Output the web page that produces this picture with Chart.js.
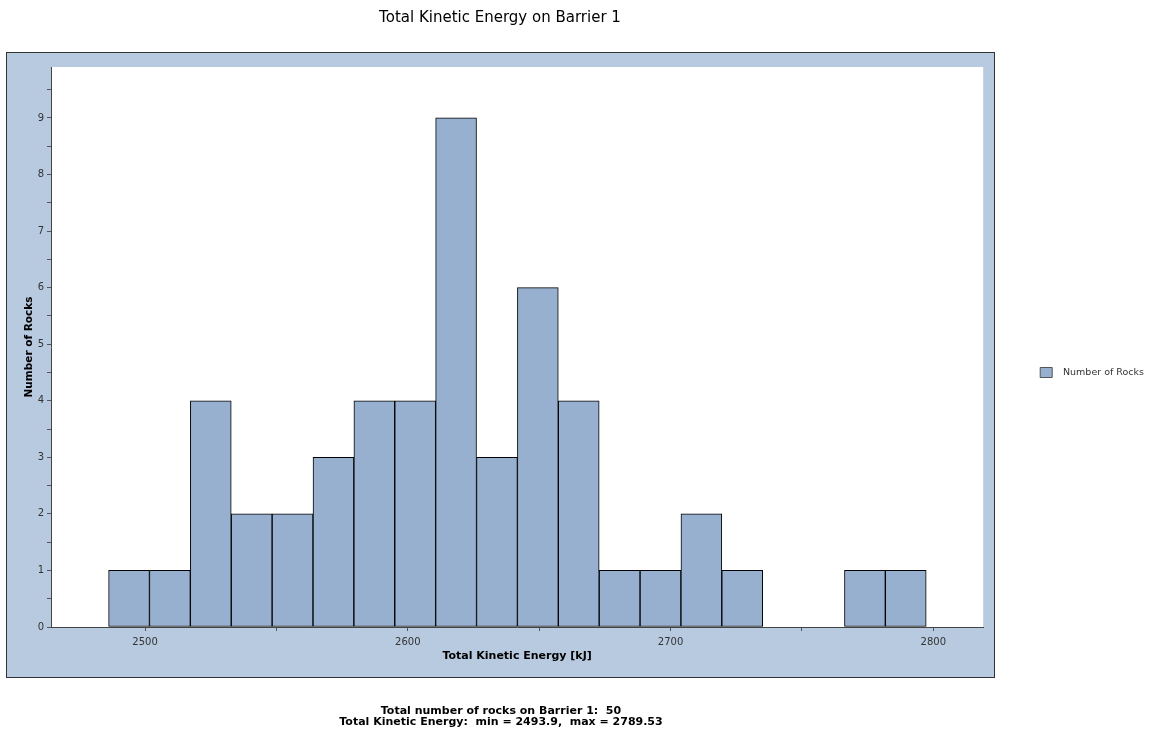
<!DOCTYPE html>
<html>
<head>
<meta charset="utf-8">
<script src="https://cdn.jsdelivr.net/npm/chart.js@4.4.1/dist/chart.umd.min.js"></script>
<style>
  body { margin: 0; background: #fff; }
  canvas { display: block; }
</style>
</head>
<body>
<canvas id="chart" width="1166" height="733"></canvas>
<script>
// histogram bins (centre of each bin, kJ) and counts
var binCenters = [2493.9, 2509.46, 2525.02, 2540.58, 2556.14, 2571.7, 2587.26, 2602.82, 2618.38, 2633.94,
                  2649.5, 2665.06, 2680.62, 2696.18, 2711.74, 2727.3, 2742.86, 2758.42, 2773.98, 2789.53];
var rockCounts = [1, 1, 4, 2, 2, 3, 4, 4, 9, 3, 6, 4, 1, 1, 2, 1, 0, 0, 1, 1];
var xTickLabels = [2500, 2600, 2700, 2800];
var chartTitle = "Total Kinetic Energy on Barrier 1";
var footerLines = ["Total number of rocks on Barrier 1:  50",
                   "Total Kinetic Energy:  min = 2493.9,  max = 2789.53"];

var panelColor = "#b8cadf";
var barColor = "#98b0cf";
var FONT = '"DejaVu Sans", Verdana, sans-serif';

// panel behind the plot + title and footer text
var framePlugin = {
  id: "frame",
  beforeDraw: function(chart){
    var ctx = chart.ctx, a = chart.chartArea;
    ctx.save();
    ctx.fillStyle = "#fff";
    ctx.fillRect(0, 0, chart.width, chart.height);
    ctx.fillStyle = panelColor;
    ctx.fillRect(7, 53, 988, 625);
    ctx.strokeStyle = "#333";
    ctx.lineWidth = 1;
    ctx.strokeRect(6.5, 52.5, 988, 625);
    ctx.fillStyle = "#fff";
    ctx.fillRect(a.left, a.top, a.right - a.left, a.bottom - a.top);
    ctx.restore();
  },
  afterDraw: function(chart){
    var ctx = chart.ctx;
    ctx.save();
    ctx.fillStyle = "#000";
    ctx.textAlign = "center";
    ctx.textBaseline = "middle";
    ctx.font = "15px " + FONT;
    ctx.fillText(chartTitle, 500, 18);
    ctx.font = "bold 11px " + FONT;
    ctx.fillText(footerLines[0], 501, 711);
    ctx.fillText(footerLines[1], 501, 722);
    ctx.restore();
  }
};

var points = binCenters.map(function(x, i){ return {x: x, y: rockCounts[i]}; });

new Chart(document.getElementById("chart"), {
  type: "bar",
  data: {
    datasets: [{
      label: "Number of Rocks",
      data: points,
      backgroundColor: barColor,
      borderColor: "#000",
      borderWidth: 1,
      borderSkipped: false,
      barPercentage: 1,
      categoryPercentage: 1
    }]
  },
  options: {
    responsive: false,
    animation: false,
    layout: { padding: { left: 7, top: 67, bottom: 55, right: 12 } },
    plugins: {
      title: { display: false },
      tooltip: { enabled: false },
      legend: {
        position: "right",
        labels: {
          font: { family: FONT, size: 9.5 },
          color: "#333",
          boxWidth: 12,
          boxHeight: 10,
          padding: 45,
          generateLabels: function(chart){
            var items = Chart.defaults.plugins.legend.labels.generateLabels(chart);
            items.forEach(function(it){
              it.text = "  " + it.text;
              it.strokeStyle = "#555";
            });
            return items;
          }
        }
      }
    },
    scales: {
      x: {
        type: "linear",
        offset: false,
        min: 2464.2,
        max: 2819,
        grid: { offset: false, drawOnChartArea: false, color: "#555", tickLength: 4 },
        border: { color: "#444" },
        afterBuildTicks: function(s){
          s.ticks = s.ticks.filter(function(t){ return Math.abs(t.value % 50) < 1e-6; });
        },
        afterFit: function(s){ s.height = 51; },
        ticks: {
          stepSize: 50,
          autoSkip: false,
          maxRotation: 0,
          padding: 5,
          color: "#333",
          font: { family: FONT, size: 10 },
          callback: function(v){ return xTickLabels.indexOf(v) >= 0 ? v : ""; }
        },
        title: {
          display: true,
          text: "Total Kinetic Energy [kJ]",
          color: "#000",
          font: { family: FONT, size: 11, weight: "bold" },
          padding: { top: 0, bottom: 15 }
        }
      },
      y: {
        min: 0,
        max: 9.9,
        grid: { drawOnChartArea: false, color: "#555", tickLength: 4 },
        border: { color: "#444" },
        afterBuildTicks: function(s){
          s.ticks = s.ticks.filter(function(t){ return Math.abs(t.value * 2 - Math.round(t.value * 2)) < 1e-6; });
        },
        afterFit: function(s){ s.width = 44; },
        ticks: {
          stepSize: 0.5,
          autoSkip: false,
          padding: 3,
          color: "#333",
          font: { family: FONT, size: 10 },
          callback: function(v){ return Number.isInteger(v) ? v : ""; }
        },
        title: {
          display: true,
          text: "Number of Rocks",
          color: "#000",
          font: { family: FONT, size: 10.5, weight: "bold" },
          padding: { top: 16, bottom: 0 }
        }
      },
      // empty right-hand spacer so the plot stops short of the panel edge
      y2: {
        position: "right",
        display: true,
        grid: { display: false, drawTicks: false },
        border: { display: false },
        ticks: { display: false },
        afterFit: function(s){ s.width = 12; }
      }
    }
  },
  plugins: [framePlugin]
});
</script>
</body>
</html>
